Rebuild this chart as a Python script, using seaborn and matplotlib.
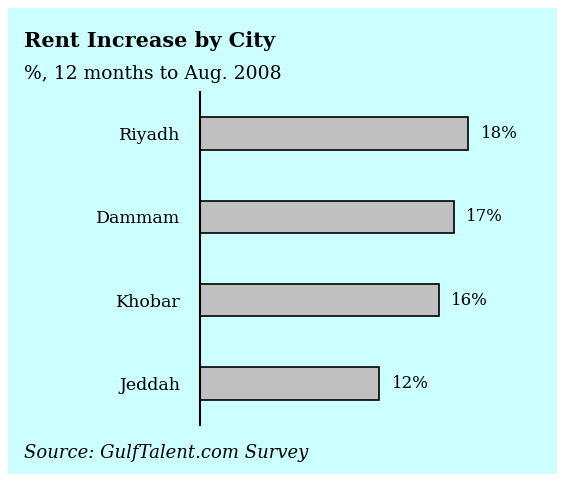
import matplotlib
matplotlib.use("Agg")
import matplotlib.pyplot as plt
import seaborn as sns
import pandas as pd
from matplotlib.patches import Rectangle

# chart data
cities = ["Riyadh", "Dammam", "Khobar", "Jeddah"]
increase = [18, 17, 16, 12]
value_labels = ["18%", "17%", "16%", "12%"]

df = pd.DataFrame({"City": cities, "Increase": increase})

sns.set_style("white")
plt.rcParams["font.family"] = ["DejaVu Serif"]
plt.rcParams["text.color"] = "black"
plt.rcParams["ytick.color"] = "black"
plt.rcParams["ytick.labelcolor"] = "black"

fig = plt.figure(figsize=(5.66, 4.82), dpi=100)
fig.patch.set_facecolor("white")

# light cyan panel behind everything
fig.patches.append(Rectangle((8 / 566, 8 / 482), 549 / 566, 466 / 482,
                             transform=fig.transFigure, facecolor="#CCFFFF",
                             edgecolor="none", zorder=-5))

ax = fig.add_axes([200 / 566, 57 / 482, 343 / 566, 333 / 482])
ax.set_facecolor("none")

sns.barplot(data=df, x="Increase", y="City", orient="h", color="#C0C0C0",
            edgecolor="black", linewidth=1.2, width=0.39, saturation=1, ax=ax)

ax.bar_label(ax.containers[0], labels=value_labels, padding=9, fontsize=12,
             color="black")

ax.set_xlim(0, 23)
ax.set_ylim(3.5, -0.5)
ax.set_xlabel("")
ax.set_ylabel("")
ax.set_xticks([])
ax.tick_params(axis="y", length=0, pad=14, labelsize=12.5, labelcolor="black")

for side in ["top", "right", "bottom"]:
    ax.spines[side].set_visible(False)
ax.spines["left"].set_color("black")
ax.spines["left"].set_linewidth(1.5)

fig.text(24 / 566, 1 - 41 / 482, "Rent Increase by City", fontsize=15,
         fontweight="bold", va="center", ha="left")
fig.text(24 / 566, 1 - 74 / 482, "%, 12 months to Aug. 2008", fontsize=13.5,
         va="center", ha="left")
fig.text(24 / 566, 1 - 453 / 482, "Source: GulfTalent.com Survey", fontsize=13,
         fontstyle="italic", va="center", ha="left")

fig.savefig("out.png", dpi=100)
